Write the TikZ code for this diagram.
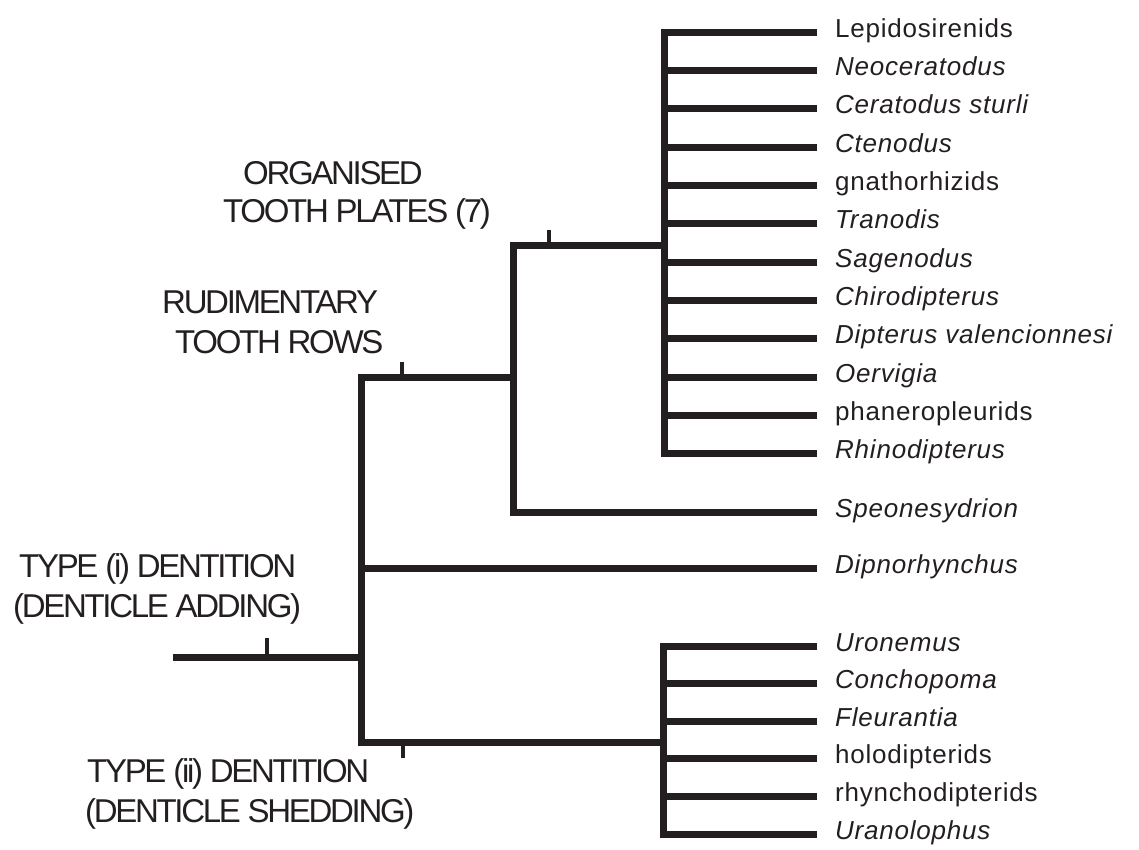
\documentclass[tikz,border=0pt]{standalone}
\usepackage{fontspec}
\setmainfont{Liberation Sans}
\newfontfamily\capsfont[LetterSpace=-7]{Liberation Sans}
\newfontfamily\taxfont[LetterSpace=3]{Liberation Sans}
\definecolor{ink}{RGB}{35,31,32}
\begin{document}
\begin{tikzpicture}[x=1pt,y=-1pt,
  branch/.style={line width=7pt, draw=ink, line join=miter, line cap=butt},
  marktick/.style={line width=4.5pt, draw=ink, line cap=butt},
  taxon/.style={anchor=base west, inner sep=0pt, text=ink, font=\taxfont\fontsize{26}{26}\selectfont},
  grp/.style={anchor=base west, inner sep=0pt, text=ink, font=\capsfont\fontsize{33}{33}\selectfont}]
\useasboundingbox (0,0) rectangle (1139,849);

% ---------- top clade (organised tooth plates) ----------
\foreach \txt [count=\i from 0] in {Lepidosirenids,{\itshape Neoceratodus},{\itshape Ceratodus sturli},{\itshape Ctenodus},gnathorhizids,{\itshape Tranodis},{\itshape Sagenodus},{\itshape Chirodipterus},{\itshape Dipterus valencionnesi},{\itshape Oervigia},phaneropleurids,{\itshape Rhinodipterus}} {
  \pgfmathsetmacro{\yy}{32+38.36*\i}
  \coordinate (a\i) at (664,\yy);
  \coordinate (t\i) at (817,\yy);
  \node[taxon] (lt\i) at (835,\yy+5) {\txt};
}
\draw[branch] (t0) -- (a0) -- (a11) -- (t11);
\foreach \i in {1,...,10} { \draw[branch] (a\i) -- (t\i); }

% ---------- lower clade (type ii) ----------
\foreach \txt [count=\i from 0] in {{\itshape Uronemus},{\itshape Conchopoma},{\itshape Fleurantia},holodipterids,rhynchodipterids,{\itshape Uranolophus}} {
  \pgfmathsetmacro{\yy}{646+37.6*\i}
  \coordinate (b\i) at (663,\yy);
  \coordinate (u\i) at (817,\yy);
  \node[taxon] (lu\i) at (835,\yy+5) {\txt};
}
\draw[branch] (u0) -- (b0) -- (b5) -- (u5);
\foreach \i in {1,...,4} { \draw[branch] (b\i) -- (u\i); }

% ---------- internal nodes ----------
\coordinate (orgA) at (664,245);
\coordinate (orgB) at (513,245);
\coordinate (spe0) at (513,512);
\coordinate (spe1) at (817,512);
\node[taxon] (lspe) at (835,517) {\itshape Speonesydrion};
\draw[branch] (orgA) -- (orgB) -- (spe0) -- (spe1);

\coordinate (rudA) at (513,377);
\coordinate (rudB) at (361,377);
\coordinate (low0) at (361,742);
\coordinate (low1) at (663,742);
\draw[branch] (rudA) -- (rudB) -- (low0) -- (low1);

\coordinate (dip0) at (361,568);
\coordinate (dip1) at (817,568);
\node[taxon] (ldip) at (835,573) {\itshape Dipnorhynchus};
\draw[branch] (dip0) -- (dip1);

\coordinate (root0) at (173,657);
\coordinate (root1) at (361,657);
\draw[branch] (root0) -- (root1);

% ---------- character ticks ----------
\coordinate (k1a) at (549,245); \coordinate (k1b) at (549,230);
\coordinate (k2a) at (402,377); \coordinate (k2b) at (402,362);
\coordinate (k3a) at (267,657); \coordinate (k3b) at (267,638);
\coordinate (k4a) at (403,742); \coordinate (k4b) at (403,758);
\draw[marktick] (k1a) -- (k1b);
\draw[marktick] (k2a) -- (k2b);
\draw[marktick] (k3a) -- (k3b);
\draw[marktick] (k4a) -- (k4b);

% ---------- group labels ----------
\node[grp] (g1a) at (243,184) {ORGANISED};
\node[grp] (g1b) at (223,222) {TOOTH PLATES (7)};
\node[grp] (g2a) at (162,313) {RUDIMENTARY};
\node[grp] (g2b) at (175,353) {TOOTH ROWS};
\node[grp] (g3a) at (19,577) {TYPE (i) DENTITION};
\node[grp] (g3b) at (13,617) {(DENTICLE ADDING)};
\node[grp] (g4a) at (87,782) {TYPE (ii) DENTITION};
\node[grp] (g4b) at (85,822) {(DENTICLE SHEDDING)};
\end{tikzpicture}
\end{document}
